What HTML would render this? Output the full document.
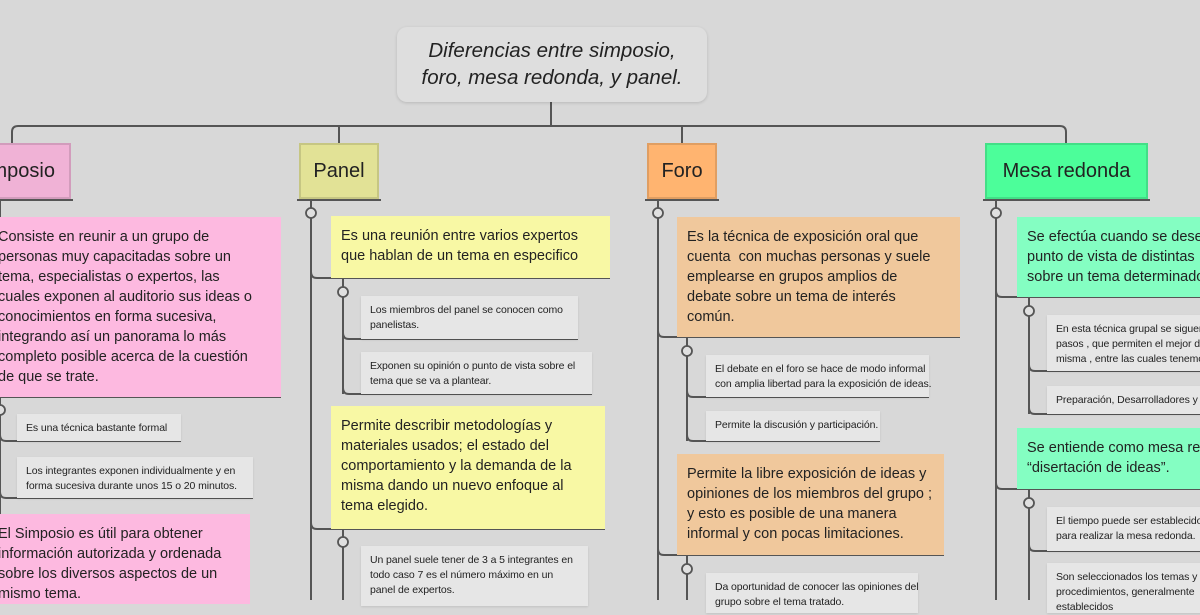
<!DOCTYPE html>
<html><head><meta charset="utf-8"><style>
body{margin:0;width:1200px;height:600px;overflow:hidden;background:#d8d8d8;font-family:"Liberation Sans",sans-serif;position:relative}
.a{position:absolute;box-sizing:border-box}
.t{font-style:italic;font-size:20.5px;line-height:27px;text-align:center;color:#222;background:#dedede;border-radius:10px;box-shadow:0 1px 3px rgba(0,0,0,.15);padding:10px 0}
.h{font-size:20px;color:#222;display:flex;align-items:center;justify-content:center;border:2px solid rgba(0,0,0,.12)}
.c{font-size:14.5px;line-height:20px;color:#222;padding:10px 10px;white-space:nowrap}
.s{font-size:10.5px;line-height:15px;color:#222;background:#e6e6e6;padding:7px 8px 6px 9px;box-shadow:0 1px 2px rgba(0,0,0,.1);white-space:nowrap;letter-spacing:-0.1px}
.p{background:#fdb9e0}.y{background:#f8f8a4}.o{background:#f0c89c}.g{background:#84fec2}
</style></head><body>
<svg class="a" style="left:0;top:0" width="1200" height="600" fill="none" stroke="#555" stroke-width="2">
<path d="M551 102V126M12 143V132Q12 126 18 126H1060Q1066 126 1066 132V143M339 126V143M682 126V143"/>
<path d="M-5 200H73M297 200H381M645 200H719M983 200H1150"/>
<path d="M311 200V600M311 272Q311 278 317 278H610M311 523Q311 529 317 529H605"/>
<path d="M343 278V394M343 333Q343 339 349 339H578M343 388Q343 394 349 394H592M343 529V600"/>
<path d="M0 200V600M0 397H281M0 435Q0 441 6 441H181M0 492Q0 498 6 498H253"/>
<path d="M658 200V600M658 331Q658 337 664 337H960M658 549Q658 555 664 555H944"/>
<path d="M687 337V441M687 391Q687 397 693 397H929M687 435Q687 441 693 441H880M687 555V600"/>
<path d="M996 200V600M996 291Q996 297 1002 297H1200M996 483Q996 489 1002 489H1200"/>
<path d="M1029 297V414M1029 365Q1029 371 1035 371H1200M1029 408Q1029 414 1035 414H1200M1029 489V600M1029 545Q1029 551 1035 551H1200"/>
<g fill="#e0e0e0" stroke-width="1.8">
<circle cx="311" cy="213" r="5"/><circle cx="343" cy="292" r="5"/><circle cx="343" cy="542" r="5"/>
<circle cx="0" cy="410" r="5"/>
<circle cx="658" cy="213" r="5"/><circle cx="687" cy="351" r="5"/><circle cx="687" cy="569" r="5"/>
<circle cx="996" cy="213" r="5"/><circle cx="1029" cy="311" r="5"/><circle cx="1029" cy="503" r="5"/>
</g></svg>
<div class="a t" style="left:397px;top:27px;width:310px;height:75px">Diferencias entre simposio,<br>foro, mesa redonda, y panel.</div>
<div class="a h" style="left:-60px;top:143px;width:131px;height:56px;background:#f0b2d6;justify-content:flex-end;padding-right:14px">Simposio</div>
<div class="a h" style="left:299px;top:143px;width:80px;height:56px;background:#e2e296">Panel</div>
<div class="a h" style="left:647px;top:143px;width:70px;height:56px;background:#ffb470">Foro</div>
<div class="a h" style="left:985px;top:143px;width:163px;height:56px;background:#4cfe9a">Mesa redonda</div>

<div class="a c p" style="left:-12px;top:217px;width:293px;height:180px">Consiste en reunir a un grupo de<br>personas muy capacitadas sobre un<br>tema, especialistas o expertos, las<br>cuales exponen al auditorio sus ideas o<br>conocimientos en forma sucesiva,<br>integrando así un panorama lo más<br>completo posible acerca de la cuestión<br>de que se trate.</div>
<div class="a s" style="left:17px;top:414px;width:164px;height:27px">Es una técnica bastante formal</div>
<div class="a s" style="left:17px;top:457px;width:236px;height:41px">Los integrantes exponen individualmente y en<br>forma sucesiva durante unos 15 o 20 minutos.</div>
<div class="a c p" style="left:-12px;top:514px;width:262px;height:90px">El Simposio es útil para obtener<br>información autorizada y ordenada<br>sobre los diversos aspectos de un<br>mismo tema.</div>

<div class="a c y" style="left:331px;top:216px;width:279px;height:62px">Es una reunión entre varios expertos<br>que hablan de un tema en especifico</div>
<div class="a s" style="left:361px;top:296px;width:217px;height:43px">Los miembros del panel se conocen como<br>panelistas.</div>
<div class="a s" style="left:361px;top:352px;width:231px;height:42px">Exponen su opinión o punto de vista sobre el<br>tema que se va a plantear.</div>
<div class="a c y" style="left:331px;top:406px;width:274px;height:123px">Permite describir metodologías y<br>materiales usados; el estado del<br>comportamiento y la demanda de la<br>misma dando un nuevo enfoque al<br>tema elegido.</div>
<div class="a s" style="left:361px;top:546px;width:227px;height:60px">Un panel suele tener de 3 a 5 integrantes en<br>todo caso 7 es el número máximo en un<br>panel de expertos.</div>

<div class="a c o" style="left:677px;top:217px;width:283px;height:120px">Es la técnica de exposición oral que<br>cuenta &nbsp;con muchas personas y suele<br>emplearse en grupos amplios de<br>debate sobre un tema de interés<br>común.</div>
<div class="a s" style="left:706px;top:355px;width:223px;height:42px">El debate en el foro se hace de modo informal<br>con amplia libertad para la exposición de ideas.</div>
<div class="a s" style="left:706px;top:411px;width:174px;height:30px">Permite la discusión y participación.</div>
<div class="a c o" style="left:677px;top:454px;width:267px;height:101px">Permite la libre exposición de ideas y<br>opiniones de los miembros del grupo ;<br>y esto es posible de una manera<br>informal y con pocas limitaciones.</div>
<div class="a s" style="left:706px;top:573px;width:212px;height:40px">Da oportunidad de conocer las opiniones del<br>grupo sobre el tema tratado.</div>

<div class="a c g" style="left:1017px;top:217px;width:260px;height:80px">Se efectúa cuando se desea<br>punto de vista de distintas<br>sobre un tema determinado</div>
<div class="a s" style="left:1047px;top:315px;width:220px;height:56px">En esta técnica grupal se siguen<br>pasos , que permiten el mejor desarrollo<br>misma , entre las cuales tenemos</div>
<div class="a s" style="left:1047px;top:386px;width:220px;height:28px">Preparación, Desarrolladores y</div>
<div class="a c g" style="left:1017px;top:428px;width:260px;height:61px">Se entiende como mesa redonda<br>“disertación de ideas”.</div>
<div class="a s" style="left:1047px;top:507px;width:220px;height:44px">El tiempo puede ser establecido<br>para realizar la mesa redonda.</div>
<div class="a s" style="left:1047px;top:563px;width:220px;height:50px">Son seleccionados los temas y<br>procedimientos, generalmente<br>establecidos</div>
</body></html>
